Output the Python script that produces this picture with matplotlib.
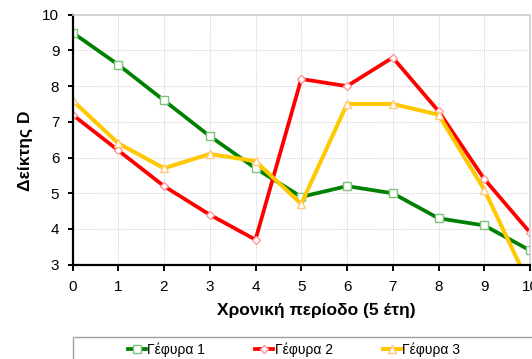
import numpy as np
import matplotlib.pyplot as plt
from matplotlib.patches import Rectangle

plt.rcParams['font.family'] = ['Liberation Sans', 'DejaVu Sans']

# Περίοδοι και δείκτης D για κάθε γέφυρα
periodos = [0, 1, 2, 3, 4, 5, 6, 7, 8, 9, 10]
gefyra1 = [9.5, 8.6, 7.6, 6.6, 5.7, 4.9, 5.2, 5.0, 4.3, 4.1, 3.4]
gefyra2 = [7.2, 6.2, 5.2, 4.4, 3.7, 8.2, 8.0, 8.8, 7.3, 5.4, 3.9]
gefyra3 = [7.6, 6.4, 5.7, 6.1, 5.9, 4.7, 7.5, 7.5, 7.2, 5.1, 2.4]
onomata = ["Γέφυρα 1", "Γέφυρα 2", "Γέφυρα 3"]

fig = plt.figure(figsize=(5.32, 3.59), dpi=100)
ax = fig.add_axes([72.5/532, 1-264.7/359, 457.5/532, 250/359])

l1, = ax.plot(periodos, gefyra1, color='#008000', lw=2.7, marker='s', ms=5.5,
              mfc='white', mec='#7cc47c', mew=1.0)
l2, = ax.plot(periodos, gefyra2, color='#ff0000', lw=2.7, marker='D', ms=4,
              mfc='white', mec='#ff9a9a', mew=1.0)
l3, = ax.plot(periodos, gefyra3, color='#ffc800', lw=2.9, marker='^', ms=5.5,
              mfc='white', mec='#ffc878', mew=1.0)

ax.set_xlim(0, 10)
ax.set_ylim(3, 10)
ax.set_xticks(range(0, 11))
ax.set_yticks(range(3, 11))
ax.grid(True, color='#d4d4d4', lw=0.7, ls=(0, (1, 1)))
ax.set_axisbelow(True)

for s in ['top', 'right']:
    ax.spines[s].set_color('#cfcfcf')
    ax.spines[s].set_linewidth(1.2)
for s in ['left', 'bottom']:
    ax.spines[s].set_color('black')
    ax.spines[s].set_linewidth(1.6)

ax.tick_params(axis='both', direction='out', width=1.4, color='black',
               labelsize=11, colors='black')
ax.tick_params(axis='x', length=4, pad=7)
ax.tick_params(axis='y', length=3.5, pad=6)

ax.set_xlabel("Χρονική περίοδο (5 έτη)", fontsize=12.5, fontweight='bold')
ax.xaxis.set_label_coords(0.534, -0.152)
ax.set_ylabel("Δείκτης D", fontsize=12.5, fontweight='bold')
ax.yaxis.set_label_coords(-0.086, 0.455)

# πλαίσιο υπομνήματος
fig.patches.append(Rectangle((73/532, -0.05), 470/532, 0.05 + 1-337/359,
                             transform=fig.transFigure, fill=False,
                             edgecolor='#a0a0a0', lw=1.0))
fig.legend([l1, l2, l3], onomata, loc='center left',
           bbox_to_anchor=(128/532, 1-350/359), ncol=3, frameon=False,
           fontsize=10, handlelength=1.3, handletextpad=0.1,
           columnspacing=3.6, borderaxespad=0, borderpad=0)

fig.savefig('out.png', dpi=100)
